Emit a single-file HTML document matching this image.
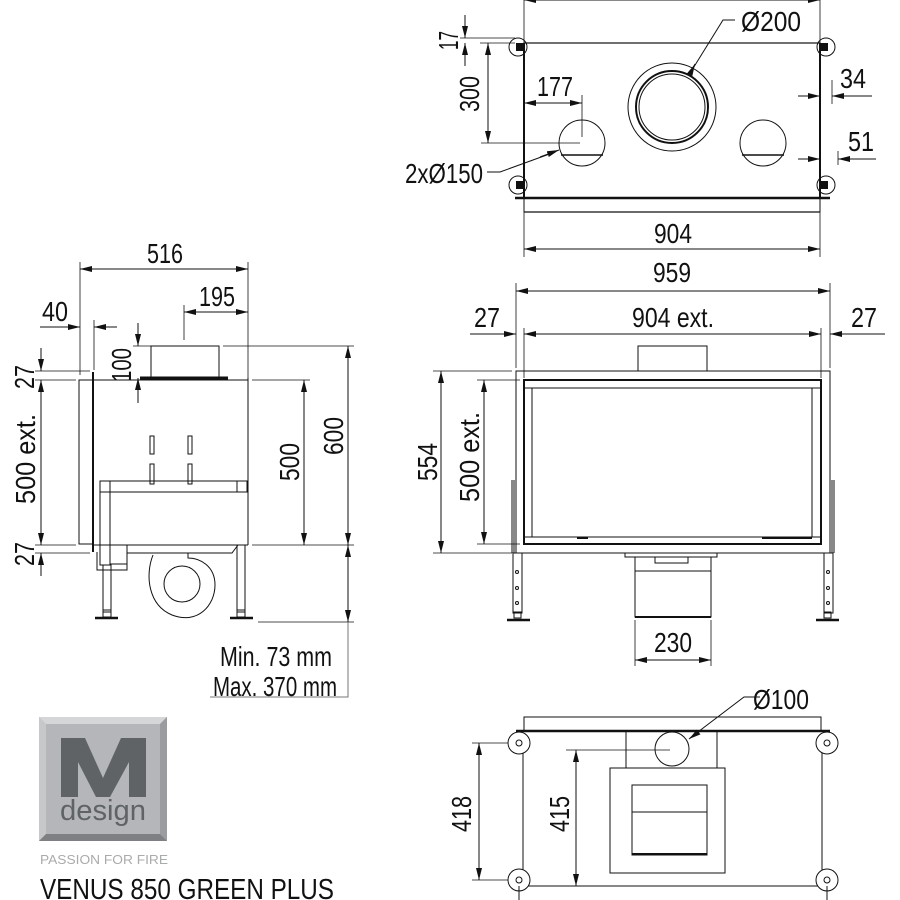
<!DOCTYPE html>
<html><head><meta charset="utf-8"><style>
html,body{margin:0;padding:0;background:#fff;width:900px;height:900px;overflow:hidden}
text{font-family:"Liberation Sans",sans-serif;fill:#111}
</style></head><body>
<svg width="900" height="900" viewBox="0 0 900 900" xmlns="http://www.w3.org/2000/svg">
<defs>
<marker id="a" viewBox="0 0 12 6" refX="12" refY="3" markerWidth="12" markerHeight="6" orient="auto-start-reverse" markerUnits="userSpaceOnUse"><path d="M0,0 L12,3 L0,6 z" fill="#111"/></marker>
</defs>
<g stroke="#111" fill="none" stroke-width="1">
<!-- ========== TOP VIEW ========== -->
<line x1="524" y1="0" x2="820" y2="0" marker-start="url(#a)" marker-end="url(#a)"/>
<line x1="524" y1="0" x2="524" y2="257" stroke-width="0.8"/>
<line x1="820" y1="0" x2="820" y2="257" stroke-width="0.8"/>
<rect x="524" y="43" width="296" height="155" stroke-width="1.2"/>
<line x1="515" y1="198" x2="830" y2="198" stroke-width="2.5"/>
<line x1="524" y1="212" x2="820" y2="212" stroke-width="1.2"/>
<line x1="524" y1="198" x2="524" y2="212"/><line x1="820" y1="198" x2="820" y2="212"/>
<line x1="524" y1="43" x2="524" y2="198" stroke-width="2"/>
<line x1="820" y1="43" x2="820" y2="198" stroke-width="2"/>
<g stroke-width="1">
<circle cx="518" cy="47" r="9"/><circle cx="826" cy="47" r="9"/>
<circle cx="518" cy="185" r="9"/><circle cx="826" cy="185" r="9"/>
</g>
<g fill="#111" stroke="none">
<rect x="516" y="43" width="8" height="8"/><rect x="820" y="43" width="8" height="8"/>
<rect x="516" y="181" width="8" height="8"/><rect x="820" y="181" width="8" height="8"/>
</g>
<circle cx="672" cy="107" r="44"/>
<circle cx="672" cy="107" r="36" stroke-width="2"/>
<circle cx="672" cy="107" r="33"/>
<circle cx="582" cy="143" r="23"/>
<line x1="561" y1="155" x2="603" y2="155" stroke-width="1.5"/>
<circle cx="763" cy="143" r="23"/>
<line x1="742" y1="155" x2="784" y2="155" stroke-width="1.5"/>
<polyline points="735,20 723,20 692,70"/>
<line x1="692" y1="70" x2="695" y2="64" marker-end="url(#a)"/>
<polyline points="487,172 500,172 555,152" />
<line x1="540" y1="157" x2="559" y2="150" marker-end="url(#a)"/>
<line x1="465" y1="15" x2="465" y2="38" marker-end="url(#a)"/>
<line x1="465" y1="66" x2="465" y2="43" marker-end="url(#a)"/>
<line x1="460" y1="38" x2="515" y2="38" stroke-width="0.8"/>
<line x1="480" y1="43" x2="515" y2="43" stroke-width="0.8"/>
<line x1="488" y1="43" x2="488" y2="143" marker-start="url(#a)" marker-end="url(#a)"/>
<line x1="481" y1="143" x2="580" y2="143" stroke-width="0.8"/>
<line x1="582" y1="95" x2="582" y2="137" stroke-width="0.8"/>
<line x1="524" y1="103" x2="582" y2="103" marker-start="url(#a)" marker-end="url(#a)"/>
<line x1="798" y1="96" x2="820" y2="96" marker-end="url(#a)"/>
<line x1="872" y1="96" x2="832" y2="96" marker-end="url(#a)"/>
<line x1="832" y1="80" x2="832" y2="104" stroke-width="0.8"/>
<line x1="798" y1="159" x2="820" y2="159" marker-end="url(#a)"/>
<line x1="876" y1="159" x2="838" y2="159" marker-end="url(#a)"/>
<line x1="838" y1="151" x2="838" y2="165" stroke-width="0.8"/>
<line x1="524" y1="249" x2="820" y2="249" marker-start="url(#a)" marker-end="url(#a)"/>

<!-- ========== SIDE VIEW ========== -->
<line x1="80" y1="262" x2="80" y2="375" stroke-width="0.8"/>
<line x1="248" y1="262" x2="248" y2="378" stroke-width="0.8"/>
<line x1="80" y1="269" x2="248" y2="269" marker-start="url(#a)" marker-end="url(#a)"/>
<line x1="184" y1="305" x2="184" y2="340" stroke-width="0.8"/>
<line x1="184" y1="312" x2="248" y2="312" marker-start="url(#a)" marker-end="url(#a)"/>
<line x1="40" y1="327" x2="80" y2="327" marker-end="url(#a)"/>
<line x1="117" y1="327" x2="94" y2="327" marker-end="url(#a)"/>
<line x1="94" y1="320" x2="94" y2="370" stroke-width="0.8"/>
<rect x="151" y="346" width="68" height="31"/>
<line x1="140" y1="378" x2="228" y2="378" stroke-width="3"/>
<line x1="138" y1="323" x2="138" y2="346" marker-end="url(#a)"/>
<line x1="138" y1="403" x2="138" y2="378" marker-end="url(#a)"/>
<line x1="133" y1="346" x2="151" y2="346" stroke-width="0.8"/>
<rect x="79" y="380" width="14" height="164"/>
<line x1="93" y1="372" x2="93" y2="552" stroke-width="2"/>
<line x1="93" y1="380" x2="248" y2="380"/>
<line x1="248" y1="378" x2="248" y2="545"/>
<line x1="93" y1="545" x2="248" y2="545"/>
<rect x="150" y="436" width="4" height="18"/><rect x="188" y="436" width="4" height="18"/>
<rect x="150" y="464" width="4" height="20"/><rect x="188" y="464" width="4" height="20"/>
<rect x="100" y="481" width="148" height="11"/>
<rect x="100" y="481" width="10" height="84"/>
<rect x="237" y="481" width="10" height="11"/>
<line x1="110" y1="492" x2="110" y2="545"/>
<polyline points="127,545 127,564 110,564"/>
<polyline points="97,552 97,570 127,570 127,564"/>
<polyline points="127,553 232,553 238,545"/>
<rect x="103" y="565" width="8" height="47"/>
<rect x="237" y="545" width="8" height="67"/>
<rect x="103" y="610" width="8" height="7"/><rect x="237" y="610" width="8" height="7"/>
<line x1="95" y1="618" x2="118" y2="618" stroke-width="2.5"/>
<line x1="230" y1="618" x2="253" y2="618" stroke-width="2.5"/>
<path d="M153,555 C145,575 148,605 172,615 C198,625 215,605 215,585 C215,566 200,558 188,558 L188,553"/>
<circle cx="182" cy="584" r="18"/>
<line x1="35" y1="371" x2="90" y2="371" stroke-width="0.8"/>
<line x1="35" y1="380" x2="76" y2="380" stroke-width="0.8"/>
<line x1="35" y1="545" x2="76" y2="545" stroke-width="0.8"/>
<line x1="35" y1="553" x2="90" y2="553" stroke-width="0.8"/>
<line x1="41" y1="348" x2="41" y2="371" marker-end="url(#a)"/>
<line x1="41" y1="380" x2="41" y2="545" marker-start="url(#a)" marker-end="url(#a)"/>
<line x1="41" y1="576" x2="41" y2="553" marker-end="url(#a)"/>
<line x1="252" y1="380" x2="310" y2="380" stroke-width="0.8"/>
<line x1="252" y1="545" x2="354" y2="545" stroke-width="0.8"/>
<line x1="304" y1="380" x2="304" y2="545" marker-start="url(#a)" marker-end="url(#a)"/>
<line x1="223" y1="346" x2="354" y2="346" stroke-width="0.8"/>
<line x1="258" y1="622" x2="354" y2="622" stroke-width="0.8"/>
<line x1="348" y1="346" x2="348" y2="545" marker-start="url(#a)" marker-end="url(#a)"/>
<line x1="348" y1="545" x2="348" y2="622" marker-start="url(#a)" marker-end="url(#a)"/>
<polyline points="348,622 348,697 210,697" stroke="#777" stroke-width="1"/>

<!-- ========== FRONT VIEW ========== -->
<line x1="516" y1="283" x2="516" y2="368" stroke-width="0.8"/>
<line x1="830" y1="283" x2="830" y2="368" stroke-width="0.8"/>
<line x1="516" y1="291" x2="830" y2="291" marker-start="url(#a)" marker-end="url(#a)"/>
<line x1="524" y1="328" x2="524" y2="378" stroke-width="0.8"/>
<line x1="821" y1="328" x2="821" y2="378" stroke-width="0.8"/>
<line x1="524" y1="334" x2="821" y2="334" marker-start="url(#a)" marker-end="url(#a)"/>
<line x1="470" y1="334" x2="516" y2="334" marker-end="url(#a)"/>
<line x1="885" y1="334" x2="830" y2="334" marker-end="url(#a)"/>
<rect x="638" y="346" width="69" height="25"/>
<rect x="516" y="371" width="314" height="182"/>
<rect x="524" y="380" width="297" height="164" stroke-width="2"/>
<line x1="524" y1="388" x2="821" y2="388"/>
<line x1="524" y1="537" x2="821" y2="537"/>
<rect x="532" y="388" width="280" height="149"/>
<line x1="577" y1="538" x2="588" y2="538" stroke-width="2"/>
<line x1="762" y1="538" x2="812" y2="538" stroke-width="2"/>
<line x1="512" y1="480" x2="512" y2="553"/><line x1="514" y1="480" x2="514" y2="553"/>
<line x1="832" y1="480" x2="832" y2="553"/><line x1="834" y1="480" x2="834" y2="553"/>
<line x1="610" y1="553" x2="725" y2="553"/>
<polyline points="625,553 625,557 717,557 717,553"/>
<rect x="635" y="557" width="76" height="60"/>
<line x1="635" y1="571" x2="711" y2="571"/>
<rect x="655" y="557" width="33" height="6"/>
<line x1="635" y1="617" x2="711" y2="617" stroke-width="2"/>
<line x1="635" y1="620" x2="635" y2="666" stroke-width="0.8"/>
<line x1="711" y1="620" x2="711" y2="666" stroke-width="0.8"/>
<line x1="635" y1="660" x2="711" y2="660" marker-start="url(#a)" marker-end="url(#a)"/>
<rect x="513" y="553" width="9" height="60"/><rect x="824" y="553" width="9" height="60"/>
<g fill="none"><circle cx="517" cy="572" r="1.5"/><circle cx="517" cy="588" r="1.5"/><circle cx="517" cy="603" r="1.5"/>
<circle cx="828" cy="572" r="1.5"/><circle cx="828" cy="588" r="1.5"/><circle cx="828" cy="603" r="1.5"/></g>
<rect x="514" y="612" width="7" height="6"/><rect x="824" y="612" width="7" height="6"/>
<line x1="507" y1="620" x2="530" y2="620" stroke-width="2.5"/>
<line x1="816" y1="620" x2="839" y2="620" stroke-width="2.5"/>
<line x1="433" y1="371" x2="512" y2="371" stroke-width="0.8"/>
<line x1="433" y1="553" x2="512" y2="553" stroke-width="0.8"/>
<line x1="441" y1="371" x2="441" y2="553" marker-start="url(#a)" marker-end="url(#a)"/>
<line x1="477" y1="380" x2="520" y2="380" stroke-width="0.8"/>
<line x1="477" y1="544" x2="520" y2="544" stroke-width="0.8"/>
<line x1="484" y1="380" x2="484" y2="544" marker-start="url(#a)" marker-end="url(#a)"/>

<!-- ========== BOTTOM VIEW ========== -->
<polyline points="524,731 524,717 821,717 821,731"/>
<line x1="516" y1="731" x2="830" y2="731" stroke-width="2.5"/>
<line x1="523" y1="743" x2="523" y2="886"/>
<line x1="822" y1="743" x2="822" y2="886"/>
<line x1="523" y1="886" x2="822" y2="886"/>
<g fill="#fff">
<circle cx="519" cy="743" r="11"/><circle cx="827" cy="743" r="11"/>
<circle cx="519" cy="880" r="11"/><circle cx="827" cy="880" r="11"/>
</g>
<g fill="none"><circle cx="519" cy="743" r="3"/><circle cx="827" cy="743" r="3"/>
<circle cx="519" cy="880" r="3"/><circle cx="827" cy="880" r="3"/></g>
<polyline points="626,731 626,768 717,768 717,731"/>
<circle cx="672" cy="749" r="17" fill="#fff"/>
<rect x="610" y="768" width="115" height="105"/>
<rect x="632" y="785" width="75" height="70"/>
<line x1="632" y1="812" x2="707" y2="812"/>
<line x1="632" y1="854" x2="707" y2="854" stroke-width="2"/>
<polyline points="760,697 744,697 690,738"/>
<line x1="700" y1="731" x2="689" y2="739" marker-end="url(#a)"/>
<line x1="472" y1="743" x2="508" y2="743" stroke-width="0.8"/>
<line x1="472" y1="880" x2="508" y2="880" stroke-width="0.8"/>
<line x1="479" y1="743" x2="479" y2="880" marker-start="url(#a)" marker-end="url(#a)"/>
<line x1="566" y1="750" x2="670" y2="750" stroke-width="0.8"/>
<line x1="576" y1="750" x2="576" y2="886" marker-start="url(#a)" marker-end="url(#a)"/>
<line x1="519" y1="886" x2="519" y2="900"/><line x1="827" y1="886" x2="827" y2="900"/>
</g>

<!-- ========== TEXT ========== -->
<g font-size="28">
<text x="741" y="31" textLength="60" lengthAdjust="spacingAndGlyphs">Ø200</text>
<text x="537" y="96" textLength="36" lengthAdjust="spacingAndGlyphs">177</text>
<text x="405" y="183" textLength="78" lengthAdjust="spacingAndGlyphs">2xØ150</text>
<text x="840" y="88" textLength="26" lengthAdjust="spacingAndGlyphs">34</text>
<text x="848" y="151" textLength="26" lengthAdjust="spacingAndGlyphs">51</text>
<text x="654" y="243" textLength="38" lengthAdjust="spacingAndGlyphs">904</text>
<text transform="translate(458,50) rotate(-90)" textLength="19" lengthAdjust="spacingAndGlyphs">17</text>
<text transform="translate(479,112) rotate(-90)" textLength="36" lengthAdjust="spacingAndGlyphs">300</text>

<text x="147" y="263" textLength="36" lengthAdjust="spacingAndGlyphs">516</text>
<text x="199" y="306" textLength="36" lengthAdjust="spacingAndGlyphs">195</text>
<text x="42" y="321" textLength="26" lengthAdjust="spacingAndGlyphs">40</text>
<text transform="translate(131,382) rotate(-90)" textLength="34" lengthAdjust="spacingAndGlyphs">100</text>
<text transform="translate(34,389) rotate(-90)" textLength="24" lengthAdjust="spacingAndGlyphs">27</text>
<text transform="translate(35,504) rotate(-90)" textLength="90" lengthAdjust="spacingAndGlyphs">500 ext.</text>
<text transform="translate(34,566) rotate(-90)" textLength="24" lengthAdjust="spacingAndGlyphs">27</text>
<text transform="translate(299,481) rotate(-90)" textLength="38" lengthAdjust="spacingAndGlyphs">500</text>
<text transform="translate(343,455) rotate(-90)" textLength="38" lengthAdjust="spacingAndGlyphs">600</text>
<text x="220" y="666" textLength="112" lengthAdjust="spacingAndGlyphs">Min. 73 mm</text>
<text x="213" y="696" textLength="124" lengthAdjust="spacingAndGlyphs">Max. 370 mm</text>

<text x="653" y="282" textLength="38" lengthAdjust="spacingAndGlyphs">959</text>
<text x="632" y="327" textLength="82" lengthAdjust="spacingAndGlyphs">904 ext.</text>
<text x="474" y="327" textLength="26" lengthAdjust="spacingAndGlyphs">27</text>
<text x="851" y="327" textLength="26" lengthAdjust="spacingAndGlyphs">27</text>
<text transform="translate(437,481) rotate(-90)" textLength="38" lengthAdjust="spacingAndGlyphs">554</text>
<text transform="translate(479,502) rotate(-90)" textLength="90" lengthAdjust="spacingAndGlyphs">500 ext.</text>
<text x="654" y="652" textLength="38" lengthAdjust="spacingAndGlyphs">230</text>

<text x="753" y="709" textLength="56" lengthAdjust="spacingAndGlyphs">Ø100</text>
<text transform="translate(471,832) rotate(-90)" textLength="36" lengthAdjust="spacingAndGlyphs">418</text>
<text transform="translate(569,832) rotate(-90)" textLength="36" lengthAdjust="spacingAndGlyphs">415</text>
</g>

<!-- ========== LOGO ========== -->
<rect x="39" y="717" width="128" height="124" fill="#b4b6b9"/>
<polygon points="39,717 167,717 160,724 46,724" fill="#d4d6d8"/>
<polygon points="39,717 46,724 46,834 39,841" fill="#c6c8ca"/>
<polygon points="167,717 160,724 160,834 167,841" fill="#9a9c9f"/>
<polygon points="39,841 46,834 160,834 167,841" fill="#7e8083"/>
<path d="M61,738 H85 L103,778 L121,738 H146 V797 H129 V762 L110,797 H96 L78,762 V797 H61 Z" fill="#5f6366"/>
<text x="103" y="820" font-size="29" text-anchor="middle" style="fill:#5f6366" textLength="86" lengthAdjust="spacingAndGlyphs">design</text>
<text x="40" y="864" font-size="12.5" style="fill:#a9abad" textLength="128" lengthAdjust="spacingAndGlyphs">PASSION FOR FIRE</text>
<text x="40" y="899" font-size="29" style="fill:#111" textLength="294" lengthAdjust="spacingAndGlyphs">VENUS 850 GREEN PLUS</text>
</svg>
</body></html>
